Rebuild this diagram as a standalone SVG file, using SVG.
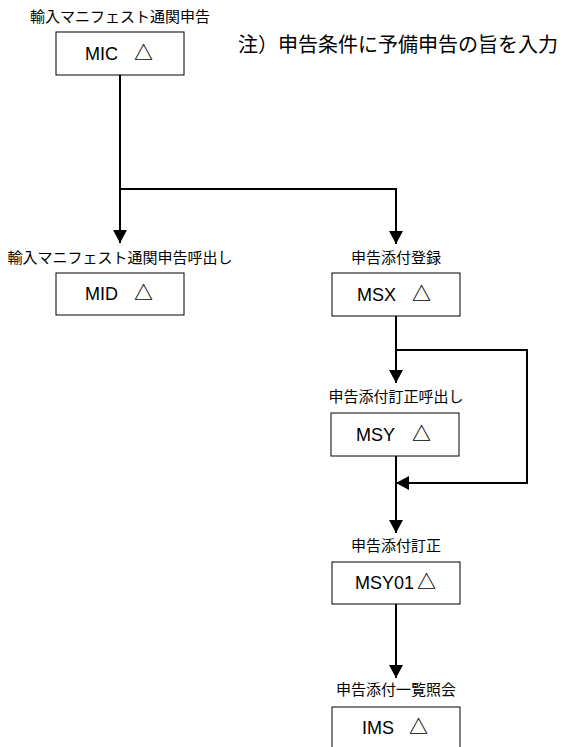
<svg xmlns="http://www.w3.org/2000/svg" width="565" height="747" viewBox="0 0 565 747">
<style>
.box{fill:#fff;stroke:#000;stroke-width:1}
.lbl{font-family:"Noto Sans CJK JP",sans-serif;font-size:15px;fill:#000;text-anchor:middle}
.note{font-family:"Noto Sans CJK JP",sans-serif;font-size:20px;fill:#000}
.code{font-family:"Liberation Sans","Noto Sans CJK JP",sans-serif;font-size:18px;fill:#000}
.tri{font-family:"Noto Sans CJK JP",sans-serif;font-size:19px;font-weight:700}
.con{fill:none;stroke:#000;stroke-width:2;marker-end:url(#ah)}
</style>
<defs>
<marker id="ah" markerUnits="userSpaceOnUse" markerWidth="14" markerHeight="14" refX="13" refY="7" orient="auto">
<path d="M0,0 L13,7 L0,14 Z" fill="#000"/>
</marker>
</defs>
<rect width="565" height="747" fill="#fff"/>
<g id="connectors">
<path class="con" d="M120,75 V243"/>
<path class="con" d="M120,189 H396 V244"/>
<path class="con" d="M396,316 V383"/>
<path class="con" d="M396,350 H527 V483 H396"/>
<path class="con" d="M396,456 V533"/>
<path class="con" d="M396,604 V678"/>
</g>
<g id="note">
<text class="note" x="238" y="52">注）申告条件に予備申告の旨を入力</text>
</g>
<g id="MIC">
<text class="lbl" x="120" y="22">輸入マニフェスト通関申告</text>
<rect class="box" x="56" y="32" width="128" height="43"/>
<text class="code" y="60"><tspan x="85">MIC</tspan><tspan class="tri" x="134">△</tspan></text>
</g>
<g id="MID">
<text class="lbl" x="120" y="263">輸入マニフェスト通関申告呼出し</text>
<rect class="box" x="56" y="273" width="128" height="42"/>
<text class="code" y="300"><tspan x="85">MID</tspan><tspan class="tri" x="134">△</tspan></text>
</g>
<g id="MSX">
<text class="lbl" x="396" y="263">申告添付登録</text>
<rect class="box" x="332" y="273" width="128" height="43"/>
<text class="code" y="301"><tspan x="357">MSX</tspan><tspan class="tri" x="412">△</tspan></text>
</g>
<g id="MSY">
<text class="lbl" x="396" y="402">申告添付訂正呼出し</text>
<rect class="box" x="331" y="413" width="128" height="43"/>
<text class="code" y="441"><tspan x="356">MSY</tspan><tspan class="tri" x="412">△</tspan></text>
</g>
<g id="MSY01">
<text class="lbl" x="396" y="551">申告添付訂正</text>
<rect class="box" x="332" y="562" width="128" height="42"/>
<text class="code" y="589"><tspan x="355">MSY01</tspan><tspan class="tri" x="417">△</tspan></text>
</g>
<g id="IMS">
<text class="lbl" x="396" y="695">申告添付一覧照会</text>
<rect class="box" x="332" y="707" width="128" height="43"/>
<text class="code" y="734"><tspan x="362">IMS</tspan><tspan class="tri" x="409">△</tspan></text>
</g>
</svg>
